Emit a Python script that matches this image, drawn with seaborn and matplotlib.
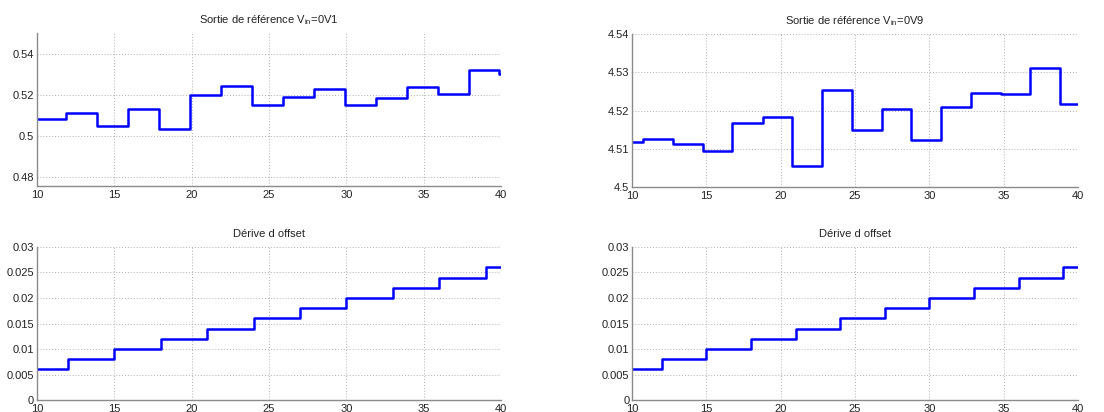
import numpy as np
import pandas as pd
import matplotlib
matplotlib.use("Agg")
import matplotlib.pyplot as plt
import seaborn as sns
from matplotlib.ticker import FuncFormatter

# ---- data ----
ref1_edges = [10, 11.9, 13.9, 15.9, 17.9, 19.9, 21.9, 23.9, 25.9, 27.9, 29.9,
              31.9, 33.9, 35.9, 37.9, 39.85, 40]
ref1_vals = [0.5084, 0.5113, 0.5048, 0.5130, 0.5031, 0.5200, 0.5244, 0.5149,
             0.5187, 0.5228, 0.5149, 0.5182, 0.5239, 0.5205, 0.5321, 0.5300]

ref9_edges = [10, 10.75, 12.76, 14.78, 16.74, 18.78, 20.78, 22.76, 24.78, 26.8,
              28.77, 30.77, 32.77, 34.8, 36.79, 38.8, 40]
ref9_vals = [4.5117, 4.5125, 4.5113, 4.5093, 4.5167, 4.5183, 4.5055, 4.5254,
             4.5150, 4.5204, 4.5123, 4.5210, 4.5247, 4.5242, 4.5310, 4.5216]

drift_edges = [10, 12, 15, 18, 21, 24, 27, 30, 33, 36, 39, 40]
drift_vals = [0.006, 0.008, 0.010, 0.012, 0.014, 0.016, 0.018, 0.020, 0.022,
              0.024, 0.026]

title_ref1 = "Sortie de r\u00e9f\u00e9rence V$_{\\mathregular{in}}$=0V1"
title_ref9 = "Sortie de r\u00e9f\u00e9rence V$_{\\mathregular{in}}$=0V9"
title_drift = "D\u00e9rive d offset"

xticks = [10, 15, 20, 25, 30, 35, 40]
yticks_ref1 = [0.48, 0.50, 0.52, 0.54]
yticks_ref9 = [4.50, 4.51, 4.52, 4.53, 4.54]
yticks_drift = [0, 0.005, 0.01, 0.015, 0.02, 0.025, 0.03]

sns.set_theme(style="white")
plt.rcParams["font.family"] = ["Liberation Sans", "DejaVu Sans"]
plt.rcParams["mathtext.fontset"] = "custom"
plt.rcParams["mathtext.rm"] = "Liberation Sans"

fig = plt.figure(figsize=(11.04, 4.12), dpi=100)

def frame(edges, vals):
    return pd.DataFrame({"x": edges, "y": list(vals) + [vals[-1]]})

def g(v, pos):
    return "%g" % round(v, 6)

panels = [
    ([0.0335, 0.5485, 0.4205, 0.3715], ref1_edges, ref1_vals, title_ref1, (0.4756, 0.55), yticks_ref1),
    ([0.5725, 0.5460, 0.4040, 0.3715], ref9_edges, ref9_vals, title_ref9, (4.50, 4.54), yticks_ref9),
    ([0.0335, 0.0291, 0.4205, 0.3714], drift_edges, drift_vals, title_drift, (0, 0.03), yticks_drift),
    ([0.5725, 0.0291, 0.4040, 0.3714], drift_edges, drift_vals, title_drift, (0, 0.03), yticks_drift),
]

for rect, edges, vals, title, ylim, yt in panels:
    ax = fig.add_axes(rect)
    df = frame(edges, vals)
    sns.lineplot(data=df, x="x", y="y", ax=ax, drawstyle="steps-post",
                 color="#0000ff", linewidth=1.8)
    ax.set_xlim(10, 40)
    ax.set_ylim(*ylim)
    ax.set_xticks(xticks)
    ax.set_yticks(yt)
    ax.xaxis.set_major_formatter(FuncFormatter(g))
    ax.yaxis.set_major_formatter(FuncFormatter(g))
    ax.set_xlabel("")
    ax.set_ylabel("")
    ax.set_title(title, fontsize=8, color="#222222", pad=7)
    ax.grid(True, linestyle=(0, (1, 2)), color="#b0b0b0", linewidth=0.7)
    for s in ("top", "right"):
        ax.spines[s].set_visible(False)
    for s in ("left", "bottom"):
        ax.spines[s].set_color("#8a8a8a")
        ax.spines[s].set_linewidth(1.0)
    ax.tick_params(axis="both", direction="in", length=3, width=0.8,
                   color="#8a8a8a", labelsize=8, labelcolor="#222222", pad=2)
    ax.tick_params(axis="x", pad=3)
    ax.set_facecolor("white")

fig.savefig("out.png", dpi=100, facecolor="white")
